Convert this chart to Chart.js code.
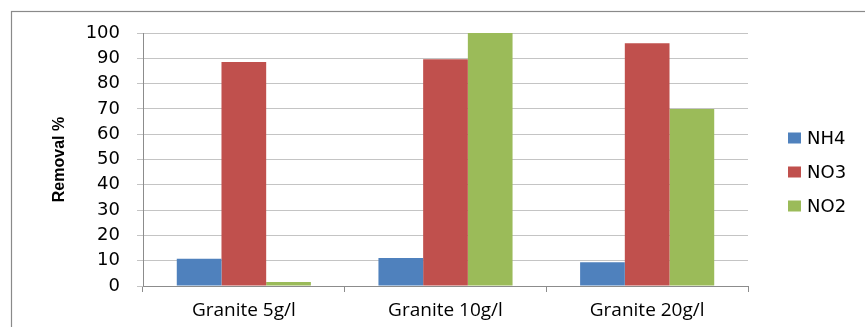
<!DOCTYPE html>
<html>
<head>
<meta charset="utf-8">
<script src="https://cdn.jsdelivr.net/npm/chart.js@4/dist/chart.umd.min.js"></script>
<style>
  html, body { margin: 0; padding: 0; background: #fff; }
  #wrap { width: 865px; height: 327px; position: relative; }
</style>
</head>
<body>
<div id="wrap"><canvas id="c" width="865" height="327"></canvas></div>
<script>
// Categories and removal percentages per ion
const categories = ['Granite 5g/l', 'Granite 10g/l', 'Granite 20g/l'];
const nh4 = [10.8, 11.1, 9.4];
const no3 = [88.5, 89.6, 95.9];
const no2 = [1.6, 100, 70];
const seriesNames = ['NH4', 'NO3', 'NO2'];
const seriesColors = ['#4F81BD', '#C0504D', '#9BBB59'];
const yTicks = [0, 10, 20, 30, 40, 50, 60, 70, 80, 90, 100];

// Frame line around the chart
const framePlugin = {
  id: 'frame',
  beforeDraw(chart) {
    const ctx = chart.ctx;
    ctx.save();
    ctx.fillStyle = '#ffffff';
    ctx.fillRect(0, 0, chart.width, chart.height);
    ctx.strokeStyle = '#8a8a8a';
    ctx.lineWidth = 1.2;
    ctx.strokeRect(11.5, 11.5, 1000, 1000);
    ctx.restore();
  }
};

// Legend drawn at the right side, one entry per dataset
const sideLegend = {
  id: 'sideLegend',
  afterDraw(chart) {
    const ctx = chart.ctx;
    ctx.save();
    ctx.font = '18px "DejaVu Sans"';
    ctx.textBaseline = 'middle';
    ctx.textAlign = 'left';
    chart.data.datasets.forEach((ds, i) => {
      const cy = 138 + i * 34;
      ctx.fillStyle = ds.backgroundColor;
      ctx.fillRect(788, cy - 5.5, 13, 11);
      ctx.fillStyle = '#000';
      ctx.fillText(ds.label, 807, cy + 1);
    });
    ctx.restore();
  }
};

const datasets = [nh4, no3, no2].map((vals, i) => ({
  label: seriesNames[i],
  data: vals,
  backgroundColor: seriesColors[i],
  borderWidth: 0,
  categoryPercentage: 0.665,
  barPercentage: 1.0
}));

new Chart(document.getElementById('c'), {
  type: 'bar',
  data: { labels: categories, datasets },
  options: {
    responsive: false,
    animation: false,
    devicePixelRatio: 1,
    layout: { padding: { left: 0, top: 33, right: 117, bottom: 0 } },
    plugins: {
      legend: { display: false },
      tooltip: { enabled: false }
    },
    scales: {
      x: {
        afterFit(scale) { scale.height = 41; },
        grid: {
          offset: true,
          drawOnChartArea: false,
          drawTicks: true,
          tickLength: 6,
          color: '#8c8c8c'
        },
        border: { color: '#8c8c8c' },
        ticks: {
          color: '#000',
          padding: 7,
          font: { family: '"Open Sans"', size: 19 }
        }
      },
      y: {
        min: 0,
        max: 100,
        afterFit(scale) { scale.width = 143; },
        afterBuildTicks(scale) { scale.ticks = yTicks.map(v => ({ value: v })); },
        grid: {
          color: '#c4c4c4',
          drawTicks: true,
          tickLength: 6
        },
        border: { color: '#8c8c8c' },
        ticks: {
          color: '#000',
          padding: 17,
          font: { family: '"DejaVu Sans"', size: 18 }
        },
        title: {
          display: true,
          text: 'Removal %',
          color: '#000',
          padding: { top: 50 },
          font: { family: '"Liberation Sans"', size: 16, weight: 'bold' }
        }
      }
    }
  },
  plugins: [framePlugin, sideLegend]
});
</script>
</body>
</html>
